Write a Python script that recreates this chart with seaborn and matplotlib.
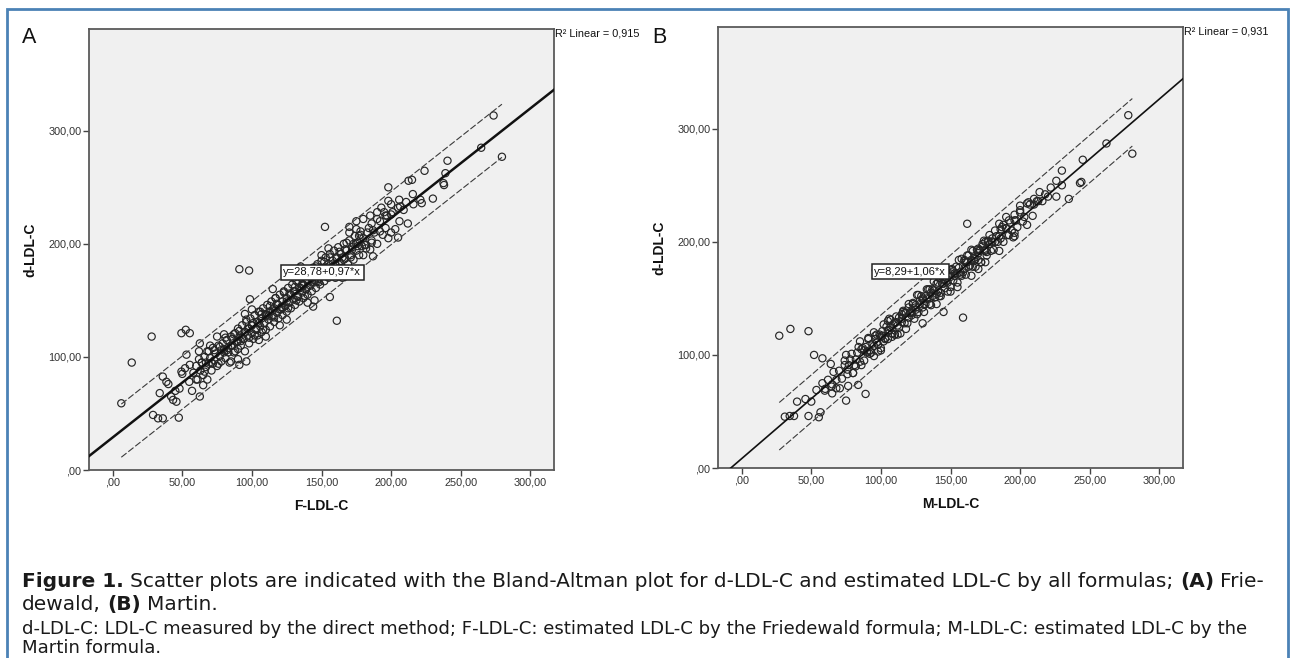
import matplotlib
matplotlib.use("Agg")
import matplotlib.pyplot as plt
from matplotlib.patches import Rectangle
import seaborn as sns
import numpy as np

# ---------------------------------------------------------------------------
# data
# ---------------------------------------------------------------------------
# panel A: F-LDL-C (x) vs d-LDL-C (y)
f_ldl_core = [
    58, 60, 61, 62, 63, 64, 65, 66, 67, 68,
    69, 70, 71, 72, 73, 74, 75, 76, 77, 78,
    79, 80, 81, 82, 83, 84, 85, 86, 87, 88,
    89, 90, 90, 91, 92, 93, 94, 95, 95, 96,
    97, 98, 98, 99, 100, 100, 101, 102, 103, 104,
    104, 105, 106, 107, 107, 108, 109, 110, 110, 111,
    112, 113, 113, 114, 115, 116, 116, 117, 118, 119,
    119, 120, 121, 122, 122, 123, 124, 125, 125, 126,
    127, 128, 128, 129, 130, 131, 131, 132, 133, 134,
    134, 135, 136, 137, 137, 138, 139, 140, 140, 141,
    142, 143, 143, 144, 145, 146, 146, 147, 148, 149,
    149, 150, 151, 152, 152, 153, 154, 155, 155, 156,
    157, 158, 158, 159, 160, 161, 161, 162, 163, 164,
    165, 166, 167, 168, 169, 170, 171, 172, 173, 174,
    175, 176, 177, 178, 179, 180, 182, 184, 186, 188,
    190, 192, 194, 196, 198, 200, 203, 206, 209, 212,
    216]
d_ldl_a_core = [
    86, 92, 80, 98, 88, 95, 84, 100, 91, 105,
    94, 99, 88, 108, 97, 103, 92, 110, 101, 96,
    112, 104, 99, 115, 108, 95, 118, 110, 104, 121,
    113, 107, 125, 118, 110, 128, 116, 122, 105, 131,
    119, 125, 112, 134, 121, 128, 116, 137, 124, 131,
    119, 140, 127, 134, 122, 143, 130, 137, 124, 146,
    133, 140, 127, 149, 136, 143, 131, 152, 139, 146,
    134, 155, 142, 149, 137, 158, 145, 152, 140, 161,
    148, 155, 143, 164, 151, 158, 146, 167, 154, 161,
    149, 170, 157, 164, 152, 173, 160, 167, 155, 176,
    163, 170, 158, 179, 166, 173, 161, 182, 169, 176,
    164, 185, 172, 179, 167, 188, 175, 182, 170, 191,
    178, 185, 173, 194, 181, 188, 176, 197, 184, 191,
    179, 200, 187, 194, 182, 203, 190, 197, 186, 207,
    194, 201, 190, 211, 198, 205, 196, 214, 203, 210,
    200, 220, 208, 214, 205, 226, 213, 220, 230, 218,
    235]
f_ldl_core2 = [
    64, 66, 69, 71, 73, 76, 78, 81, 83, 86,
    88, 91, 93, 96, 98, 101, 103, 106, 108, 111,
    113, 116, 118, 121, 123, 126, 128, 131, 133, 136,
    138, 141, 143, 146, 148, 151, 153, 156, 158, 161,
    163, 166, 168, 171, 173, 176, 178, 181, 183, 186,
    67, 72, 77, 82, 87, 92, 97, 102, 107, 112,
    117, 122, 127, 132, 137, 142, 147, 152, 157, 162,
    167, 172, 177, 182, 187, 192, 197, 85, 95, 105,
    115, 125, 135, 145, 155, 165, 175, 110, 120, 130,
    140, 150, 160, 100, 90, 80]
d_ldl_a_core2 = [
    95, 87, 105, 95, 106, 94, 106, 117, 104, 116,
    105, 123, 117, 133, 117, 130, 125, 140, 124, 137,
    145, 135, 147, 144, 157, 143, 155, 162, 153, 164,
    154, 173, 166, 180, 166, 178, 174, 188, 174, 187,
    193, 186, 201, 188, 200, 198, 208, 199, 210, 201,
    95, 94, 109, 106, 120, 114, 125, 119, 138, 136,
    152, 144, 156, 150, 163, 172, 167, 184, 179, 177,
    195, 195, 207, 199, 212, 211, 225, 110, 122, 130,
    141, 149, 161, 168, 180, 188, 200, 138, 142, 158,
    162, 176, 182, 128, 114, 107]
f_ldl_extra = [
    75, 80, 85, 95, 105, 115, 125, 135, 145, 155,
    165, 175, 185, 120, 130, 140, 150, 160, 170, 180,
    100, 110, 90, 70, 65, 55, 52, 48, 45, 42,
    40, 50, 57, 62, 68, 195, 200, 205, 190, 185,
    180, 175, 170, 198, 201]
d_ldl_a_extra = [
    118, 120, 96, 138, 115, 160, 133, 180, 150, 196,
    170, 213, 195, 128, 170, 148, 190, 170, 210, 190,
    142, 118, 98, 110, 75, 78, 90, 72, 70, 65,
    76, 85, 70, 105, 80, 228, 210, 232, 222, 225,
    222, 220, 215, 238, 228]
f_ldl_out = [
    6.2, 13.7, 28, 49.4, 52.5, 55.4, 29, 32.6, 36, 47.5,
    36, 38.6, 33.8, 43.4, 45.8, 62.6, 53, 49.4, 55.4, 60,
    96, 91, 62.6, 91, 98, 152.5, 161, 98.6, 156, 144,
    273.6, 264.7, 279.6, 240.5, 239, 237.6, 238, 224, 212.5, 215,
    198, 215.6, 222, 221, 205.8, 206.5, 210.8, 205, 187, 193,
    190, 196, 200, 186, 230]
d_ldl_a_out = [
    59, 95, 118, 121, 124, 121, 48.7, 45.7, 45.7, 46.3,
    82.6, 78, 68, 62, 60.4, 65, 102, 87, 93, 80,
    96, 93, 112, 177.6, 176.4, 215, 132, 151, 153, 144.5,
    313.5, 285, 277, 273.5, 262.5, 253.7, 252, 264.6, 255.8, 256.6,
    250, 244, 236, 239, 239, 233, 237, 205.6, 189, 232,
    228, 225, 235, 218, 240]

# panel B: M-LDL-C (x) vs d-LDL-C (y)
m_ldl_core = [
    70, 72, 74, 76, 78, 80, 82, 84, 85, 86,
    88, 89, 90, 91, 92, 94, 95, 96, 97, 98,
    99, 100, 101, 102, 103, 104, 105, 106, 107, 108,
    109, 110, 111, 112, 113, 114, 115, 116, 117, 118,
    119, 120, 121, 122, 123, 124, 125, 126, 127, 128,
    129, 130, 131, 132, 133, 134, 135, 136, 137, 138,
    139, 140, 141, 142, 143, 144, 145, 146, 147, 148,
    149, 150, 151, 152, 153, 154, 155, 156, 157, 158,
    159, 160, 161, 162, 163, 164, 165, 166, 167, 168,
    169, 170, 171, 172, 173, 174, 175, 176, 177, 178,
    179, 180, 182, 184, 186, 188, 190, 192, 194, 196,
    198, 200, 203, 206, 209, 212, 216]
d_ldl_b_core = [
    86, 79, 95, 87, 96, 84, 96, 107, 94, 105,
    95, 107, 103, 114, 101, 110, 99, 117, 111, 109,
    118, 106, 117, 127, 114, 125, 114, 122, 131, 119,
    127, 118, 134, 126, 133, 119, 132, 138, 128, 137,
    128, 145, 137, 135, 145, 132, 144, 153, 138, 145,
    152, 142, 138, 152, 150, 158, 145, 155, 152, 165,
    151, 163, 156, 168, 152, 163, 167, 159, 174, 164,
    170, 160, 176, 166, 172, 178, 164, 177, 173, 185,
    173, 183, 171, 182, 188, 179, 193, 178, 186, 185,
    193, 184, 193, 182, 196, 201, 192, 188, 201, 198,
    192, 203, 210, 200, 211, 200, 212, 219, 210, 219,
    213, 226, 222, 235, 223, 236, 236]
m_ldl_core2 = [
    74, 76, 79, 81, 83, 86, 88, 91, 93, 96,
    98, 101, 103, 106, 108, 111, 113, 116, 118, 121,
    123, 126, 128, 131, 133, 136, 138, 141, 143, 146,
    148, 151, 153, 156, 158, 161, 163, 166, 168, 171,
    173, 176, 178, 181, 183, 186, 188, 191, 193, 196,
    77, 82, 87, 92, 97, 102, 107, 112, 117, 122,
    127, 132, 137, 142, 147, 152, 157, 162, 167, 172,
    177, 182, 187, 192, 197, 202, 207, 95, 105, 115,
    125, 135, 145, 155, 165, 175, 185, 110, 120, 130,
    140, 150, 160, 100, 90, 170]
d_ldl_b_core2 = [
    91, 83, 101, 91, 102, 91, 104, 115, 102, 114,
    103, 121, 115, 132, 116, 129, 124, 139, 123, 138,
    146, 136, 148, 145, 158, 144, 157, 164, 155, 166,
    156, 175, 170, 184, 170, 182, 178, 192, 178, 192,
    198, 191, 206, 193, 205, 203, 215, 206, 217, 208,
    91, 90, 106, 104, 118, 112, 124, 118, 137, 137,
    153, 145, 158, 152, 165, 174, 171, 188, 183, 182,
    200, 200, 213, 206, 219, 218, 233, 108, 121, 129,
    142, 150, 163, 172, 184, 193, 205, 128, 133, 149,
    154, 169, 176, 116, 102, 190]
m_ldl_extra = [
    60, 62, 65, 66, 68, 58, 64, 75, 80, 85,
    95, 100, 105, 110, 115, 125, 130, 135, 145, 150,
    155, 160, 165, 170, 175, 180, 185, 190, 195, 200,
    205, 210, 185, 190, 175, 170, 140, 120, 130, 150]
d_ldl_b_extra = [
    70, 78, 74, 85, 78, 75, 92, 100, 84, 112,
    120, 104, 130, 118, 136, 140, 128, 158, 138, 172,
    160, 184, 170, 194, 182, 200, 192, 212, 204, 228,
    215, 238, 216, 222, 200, 176, 145, 142, 150, 156]
m_ldl_out = [
    31, 34.5, 37.6, 48, 55.4, 56.6, 75, 89, 39.8, 45.8,
    50, 53.7, 59.7, 64.5, 68, 70.5, 65, 76.5, 83.7, 27,
    35, 48, 52, 58, 96.4, 102, 162, 196, 159, 277.7,
    262, 280.6, 245, 243, 244, 230, 226, 222, 218, 213,
    210, 220, 205, 200, 196, 214, 226, 235, 230]
d_ldl_b_out = [
    45.4, 46, 46, 46, 44.9, 49.3, 59.6, 65.5, 58.7, 61,
    58.7, 69, 68.4, 72, 70.5, 70.5, 66, 72.6, 73.5, 117,
    123, 121, 100, 97, 175, 175, 216, 205, 133, 312,
    287, 278, 272.6, 252, 253, 263, 254, 248, 242, 236,
    233, 240, 234, 232, 224, 244, 240, 238, 250]

# fit lines as printed in the panels
fit_a = (28.78, 0.97)
fit_b = (8.29, 1.06)
band_a = 23.5
band_b = 21.0
r2_a = "R\u00b2 Linear = 0,915"
r2_b = "R\u00b2 Linear = 0,931"

x_ticks = [0, 50, 100, 150, 200, 250, 300]
x_tick_labels = [",00", "50,00", "100,00", "150,00", "200,00", "250,00", "300,00"]
y_ticks = [0, 100, 200, 300]
y_tick_labels = [",00", "100,00", "200,00", "300,00"]

W, H = 1291, 658
FONT = ["Liberation Sans", "DejaVu Sans"]
CAPTION_FONT = ["DejaVu Sans"]

sns.set_style("white")
plt.rcParams["font.family"] = FONT

fig = plt.figure(figsize=(W / 100, H / 100), dpi=100)
fig.patch.set_facecolor("white")


def px_rect(left, top, right, bottom):
    return [left / W, 1 - bottom / H, (right - left) / W, (bottom - top) / H]


def draw_panel(ax, xs, ys, fit, band, eq_text, eq_xy, r2, xlabel, lw_fit):
    sns.scatterplot(x=xs, y=ys, ax=ax, marker="o", s=27, linewidth=0.85,
                    zorder=3, legend=False)
    pts = ax.collections[-1]
    pts.set_facecolor("none")
    pts.set_edgecolor("#262626")

    b0, b1 = fit
    gx = np.array([-20, 320])
    ax.plot(gx, b0 + b1 * gx, color="#111111", lw=lw_fit, zorder=4)
    bx = np.array([min(xs), max(xs)])
    for sgn in (1, -1):
        ax.plot(bx, b0 + b1 * bx + sgn * band, color="#3a3a3a", lw=0.8,
                dashes=(6, 2), zorder=4)

    ax.text(eq_xy[0], eq_xy[1], eq_text, ha="center", va="center", fontsize=8,
            color="#111111", zorder=6,
            bbox=dict(boxstyle="square,pad=0.22", fc="white", ec="#222222", lw=1.1))

    ax.set_xlim(-17, 317)
    ax.set_ylim(0, 390)
    ax.set_facecolor("#f0f0f0")
    ax.set_xticks(x_ticks)
    ax.set_xticklabels(x_tick_labels)
    ax.set_yticks(y_ticks)
    ax.set_yticklabels(y_tick_labels)
    ax.tick_params(axis="both", direction="out", length=4, width=1,
                   color="#444444", labelsize=7.8, labelcolor="#333333", pad=1.5,
                   bottom=True, left=True)
    for sp in ax.spines.values():
        sp.set_color("#5a5a5a")
        sp.set_linewidth(1.3)
    ax.grid(False)

    ax.set_xlabel(xlabel, fontsize=10, fontweight="bold", color="#111111")
    ax.set_ylabel("d-LDL-C", fontsize=10, fontweight="bold", color="#111111")
    ax.xaxis.set_label_coords(0.5, -0.066)
    ax.yaxis.set_label_coords(-0.112, 0.5)

    ax.text(1.003, 1.0, r2, transform=ax.transAxes, ha="left", va="top",
            fontsize=7.8, color="#111111")


ax_a = fig.add_axes(px_rect(89, 29, 554, 470))
ax_b = fig.add_axes(px_rect(718, 27, 1183, 468))

xa = f_ldl_core + f_ldl_core2 + f_ldl_extra + f_ldl_out
ya = d_ldl_a_core + d_ldl_a_core2 + d_ldl_a_extra + d_ldl_a_out
xb = m_ldl_core + m_ldl_core2 + m_ldl_extra + m_ldl_out
yb = d_ldl_b_core + d_ldl_b_core2 + d_ldl_b_extra + d_ldl_b_out

draw_panel(ax_a, xa, ya, fit_a, band_a, "y=28,78+0,97*x", (150.5, 175), r2_a,
           "F-LDL-C", 1.8)
draw_panel(ax_b, xb, yb, fit_b, band_b, "y=8,29+1,06*x", (121, 173.5), r2_b,
           "M-LDL-C", 1.2)

# panel letters
fig.text(22 / W, 1 - 43 / H, "A", fontsize=15.5, va="baseline", ha="left", color="#111111")
fig.text(652 / W, 1 - 43 / H, "B", fontsize=15.5, va="baseline", ha="left", color="#111111")

# outer blue frame
fig.patches.append(Rectangle((7 / W, -0.02), 1281 / W, 1 - 9 / H + 0.02,
                             transform=fig.transFigure, fill=False,
                             ec="#4b82b6", lw=2, zorder=0))

# caption
renderer = fig.canvas.get_renderer()


def put_runs(x_px, y_px, runs, size):
    x = x_px
    space = 0.318 * size * 100 / 72
    for txt, weight in runs:
        if txt.startswith(" "):
            x += space
            txt = txt.lstrip()
        t = fig.text(x / W, 1 - y_px / H, txt, fontsize=size, fontweight=weight,
                     va="baseline", ha="left", color="#1a1a1a", family=CAPTION_FONT)
        x += t.get_window_extent(renderer=renderer).width


put_runs(22, 587, [("Figure 1.", "bold"),
                   (" Scatter plots are indicated with the Bland-Altman plot for d-LDL-C "
                    "and estimated LDL-C by all formulas;", "normal"),
                   (" (A)", "bold"), (" Frie-", "normal")], 14.5)
put_runs(22, 610, [("dewald,", "normal"), (" (B)", "bold"), (" Martin.", "normal")], 14.5)
put_runs(22, 634, [("d-LDL-C: LDL-C measured by the direct method; F-LDL-C: estimated "
                    "LDL-C by the Friedewald formula; M-LDL-C: estimated LDL-C by the",
                    "normal")], 13.1)
put_runs(22, 653, [("Martin formula.", "normal")], 13.1)

fig.savefig("out.png", dpi=100, facecolor="white")
